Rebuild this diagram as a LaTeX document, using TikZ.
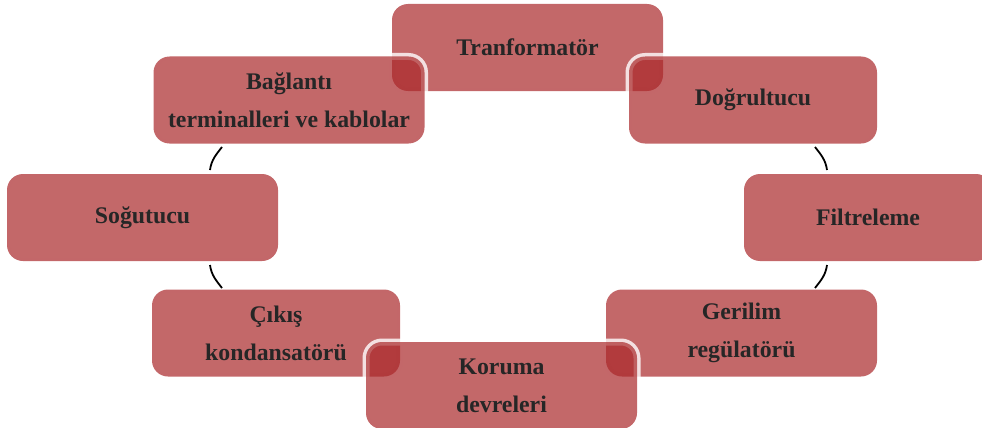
\documentclass[tikz,border=0pt]{standalone}
\usepackage{fontspec}
\setmainfont{Liberation Serif}
\usepackage{xcolor}
\usepackage{tikz}
\usetikzlibrary{positioning, arrows.meta}
\definecolor{cRed}{HTML}{AA282A}
\definecolor{cInk}{HTML}{262626}

\begin{document}
\begin{tikzpicture}[x=1pt, y=-1pt,
  stage/.style={fill=cRed, fill opacity=0.7, text opacity=1, text=cInk,
    preaction={draw=white, draw opacity=0.8, line width=7pt},
    rounded corners=16pt, inner sep=0pt, align=center, minimum height=87pt,
    font=\fontsize{23.8}{38}\selectfont\bfseries},
  wide/.style={stage, minimum width=271pt},
  narrow/.style={stage, minimum width=248pt},
  ring/.style={draw=black, line width=1.8pt}]
  \useasboundingbox (0,0) rectangle (982,428);
  \node[wide] (tr) at (527.5,47.5) {Tranformatör};
  \node[narrow] (dg) at (753,100) {Doğrultucu};
  \node[narrow] (fl) at (868,217.5) {Filtreleme};
  \node[wide] (gr) at (741.5,333) {Gerilim\\regülatörü};
  \node[narrow] (ck) at (276,333) {Çıkış\\kondansatörü};
  \node[wide] (kr) at (501.5,385.5) {Koruma\\devreleri};
  \node[wide] (sg) at (142.5,217.5) {Soğutucu};
  \node[wide] (bg) at (289,100) {Bağlantı\\terminalleri ve kablolar};
  % arcs of the cycle
  \coordinate (a1) at (222,147);  \coordinate (a2) at (210,170);
  \coordinate (b1) at (210,265);  \coordinate (b2) at (222,288);
  \coordinate (c1) at (815,147);  \coordinate (c2) at (827,170);
  \coordinate (d1) at (827,265);  \coordinate (d2) at (815,288);
  \draw[ring] (a1) to[out=232, in=82] (a2);
  \draw[ring] (b1) to[out=278, in=128] (b2);
  \draw[ring] (c1) to[out=308, in=98] (c2);
  \draw[ring] (d1) to[out=262, in=52] (d2);
\end{tikzpicture}
\end{document}
